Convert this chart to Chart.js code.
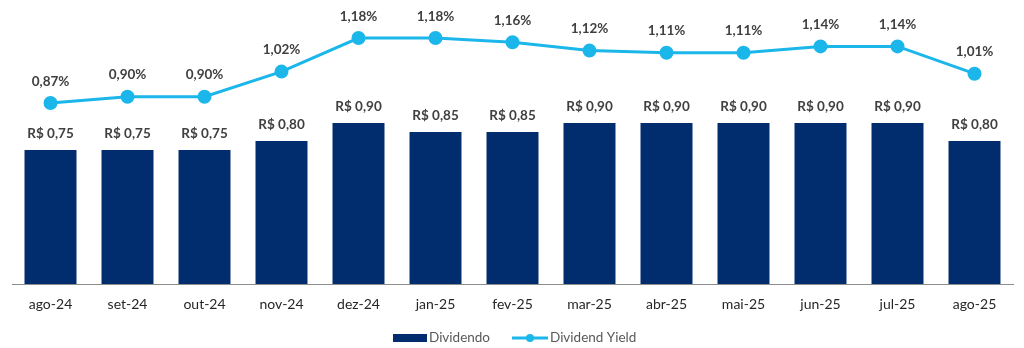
<!DOCTYPE html>
<html>
<head>
<meta charset="utf-8">
<script src="https://cdn.jsdelivr.net/npm/chart.js@4/dist/chart.umd.min.js"></script>
<style>
  html, body { margin: 0; padding: 0; background: #fff; }
  #wrap { width: 1024px; height: 348px; }
</style>
</head>
<body>
<div id="wrap"><canvas id="grafico"></canvas></div>
<script>
const meses = ["ago-24", "set-24", "out-24", "nov-24", "dez-24", "jan-25", "fev-25", "mar-25", "abr-25", "mai-25", "jun-25", "jul-25", "ago-25"];
const dividendos = [0.75, 0.75, 0.75, 0.80, 0.90, 0.85, 0.85, 0.90, 0.90, 0.90, 0.90, 0.90, 0.80];
const dividendYield = [0.87, 0.90, 0.90, 1.02, 1.18, 1.18, 1.16, 1.12, 1.11, 1.11, 1.14, 1.14, 1.01];

const corBarra = "#012C6E";
const corLinha = "#1BB6EA";
const fonte = "Lato, 'Open Sans', sans-serif";

const fmt = v => v.toFixed(2).replace(".", ",");

// rótulos sobre barras e pontos
const rotulos = {
  id: "rotulos",
  afterDatasetsDraw(chart) {
    const ctx = chart.ctx;
    ctx.save();
    ctx.font = "bold 13.5px " + fonte;
    ctx.fillStyle = "#404040";
    ctx.textAlign = "center";
    ctx.textBaseline = "bottom";
    chart.getDatasetMeta(0).data.forEach((bar, i) => {
      ctx.fillText("R$ " + fmt(dividendos[i]), bar.x, bar.y - 10);
    });
    chart.getDatasetMeta(1).data.forEach((pt, i) => {
      ctx.fillText(fmt(dividendYield[i]) + "%", pt.x, pt.y - 15);
    });
    ctx.restore();
  }
};

// legenda desenhada à mão
const legenda = {
  id: "legenda",
  afterDraw(chart) {
    const ctx = chart.ctx;
    const y = 338;
    ctx.save();
    ctx.font = "13.5px " + fonte;
    ctx.textBaseline = "middle";
    ctx.textAlign = "left";
    ctx.fillStyle = corBarra;
    ctx.fillRect(393, y - 4, 34, 8);
    ctx.fillStyle = "#595959";
    ctx.fillText("Dividendo", 429, y);
    ctx.strokeStyle = corLinha;
    ctx.lineWidth = 3;
    ctx.beginPath();
    ctx.moveTo(512, y);
    ctx.lineTo(548, y);
    ctx.stroke();
    ctx.fillStyle = corLinha;
    ctx.beginPath();
    ctx.arc(530, y, 4, 0, Math.PI * 2);
    ctx.fill();
    ctx.fillStyle = "#595959";
    ctx.fillText("Dividend Yield", 550, y);
    ctx.restore();
  }
};

new Chart(document.getElementById("grafico"), {
  type: "bar",
  data: {
    labels: meses,
    datasets: [{
      type: "bar",
      label: "Dividendo",
      data: dividendos,
      backgroundColor: corBarra,
      categoryPercentage: 1,
      barPercentage: 0.675,
      yAxisID: "y",
      order: 2
    }, {
      type: "line",
      label: "Dividend Yield",
      data: dividendYield,
      borderColor: corLinha,
      backgroundColor: corLinha,
      borderWidth: 3,
      pointRadius: 5.5,
      pointHoverRadius: 5.5,
      tension: 0,
      yAxisID: "y2",
      order: 1
    }]
  },
  options: {
    responsive: true,
    maintainAspectRatio: false,
    animation: false,
    layout: { padding: { left: 12, right: 11, top: 20, bottom: 0 } },
    plugins: {
      legend: { display: false },
      tooltip: { enabled: false }
    },
    scales: {
      x: {
        grid: { display: false, drawTicks: false },
        border: { color: "#8c8c8c", width: 1 },
        ticks: { color: "#262626", font: { family: fonte, size: 14 }, padding: 12 },
        afterFit(scale) { scale.height = 64; }
      },
      y: { display: false, min: 0, max: 1.4765 },
      y2: { display: false, min: 0.007, max: 1.266 }
    }
  },
  plugins: [rotulos, legenda]
});
</script>
</body>
</html>
